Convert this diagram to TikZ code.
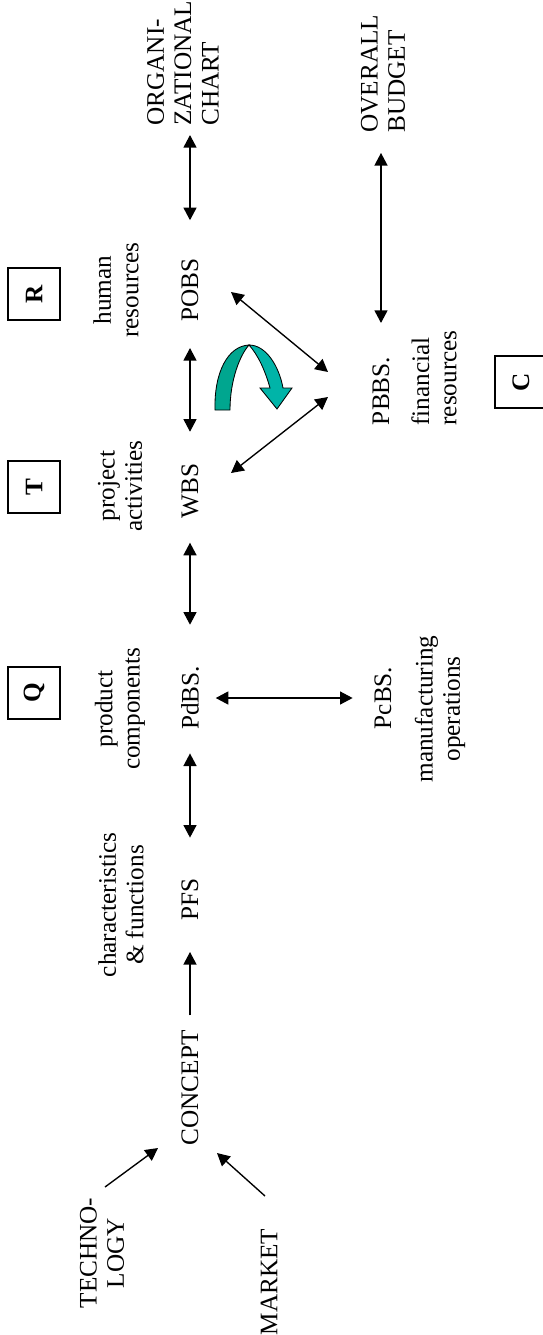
\documentclass[tikz,border=0pt]{standalone}
\usepackage{fontspec}
\setmainfont{Liberation Serif}
\usetikzlibrary{arrows.meta}
\definecolor{tealdark}{RGB}{0,166,143}
\definecolor{teallight}{RGB}{0,180,168}

\begin{document}
\begin{tikzpicture}[x=0.01672cm,y=-0.01672cm,
  hd/.tip={Triangle[length=6pt,width=6.2pt]},
  txt/.style={rotate=90,inner sep=0pt,font=\fontsize{12pt}{13pt}\selectfont},
  lbl/.style={txt,align=center},
  lft/.style={txt,align=left,anchor=west},
  letter/.style={draw,line width=0.6pt,minimum size=0.87cm,inner sep=0pt,rotate=90,
    font=\fontsize{12pt}{13pt}\selectfont\bfseries},
  arr/.style={line width=0.65pt,hd-hd},
  one/.style={line width=0.65pt,-hd}]
\useasboundingbox (0,0) rectangle (542,1335);
%
\node[letter] (r) at (34,294) {R};
\node[letter] (t) at (34,487) {T};
\node[letter] (q) at (34,693) {Q};
\node[letter] (c) at (521,382) {C};
%
\node[lbl] (hum) at (116,290) {human\\resources};
\node[lbl] (act) at (120,486) {project\\activities};
\node[lbl] (comp) at (120,709) {product\\components};
\node[lbl] (char) at (121,905) {characteristics\\\& functions};
\node[lbl] (tech) at (102,1253) {TECHNO-\\LOGY};
\node[txt] (market) at (269,1282) {MARKET};
%
\node[txt] (pobs) at (190,290) {POBS};
\node[txt] (wbs) at (190,491) {WBS};
\node[txt] (pdbs) at (190,698) {PdBS.};
\node[txt] (pfs) at (190,899) {PFS};
\node[txt] (concept) at (190,1088) {CONCEPT};
\node[lft] (org) at (183,126) {ORGANI-\\ZATIONAL\\CHART};
%
\node[txt] (pbbs) at (381,391) {PBBS.};
\node[txt] (pcbs) at (383,698) {PcBS.};
\node[lft] (overall) at (383,133) {OVERALL\\BUDGET};
\node[lft] (fin) at (434,426) {financial\\resources};
\node[lbl] (manu) at (440,709) {manufacturing\\operations};
%
\draw[one,shorten <=7pt,shorten >=15pt] (concept) -- (pfs);
\draw[arr,shorten <=19pt,shorten >=11pt] (pfs) -- (pdbs);
\draw[arr,shorten <=19.5pt,shorten >=11.4pt] (pdbs) -- (wbs);
\draw[arr,shorten <=15pt,shorten >=12.4pt] (wbs) -- (pobs);
\draw[arr,shorten <=18pt,shorten >=4.3pt] (pobs) -- (pobs |- org.west);
\draw[arr,shorten <=16pt,shorten >=9.5pt] (pbbs) -- (pbbs |- overall.west);
\draw[arr,shorten <=7.8pt,shorten >=10.2pt] (pdbs) -- (pcbs);
%
\draw[arr] ([shift={(41,2)}]pobs.center) -- ([shift={(-53,-19)}]pbbs.center);
\draw[arr] ([shift={(41,-18)}]wbs.center) -- ([shift={(-53,6)}]pbbs.center);
\draw[one] ([shift={(3,-66)}]tech.center) -- ([shift={(-32,60)}]concept.center);
\draw[one] ([shift={(-4,-86)}]market.center) -- ([shift={(27,65)}]concept.center);
%
% turn-over arrow
\draw[fill=tealdark,line width=0.4pt] (215,410) .. controls (214,372) and (228,346) .. (249,345)
  .. controls (240,355) and (230,380) .. (230,410) -- cycle;
\draw[fill=teallight,line width=0.4pt] (249,345) .. controls (266,345) and (279,366) .. (283,388)
  -- (292,388) -- (277,409) -- (260,388) -- (270,388) .. controls (265,370) and (258,355) .. (249,345) -- cycle;
\end{tikzpicture}
\end{document}
